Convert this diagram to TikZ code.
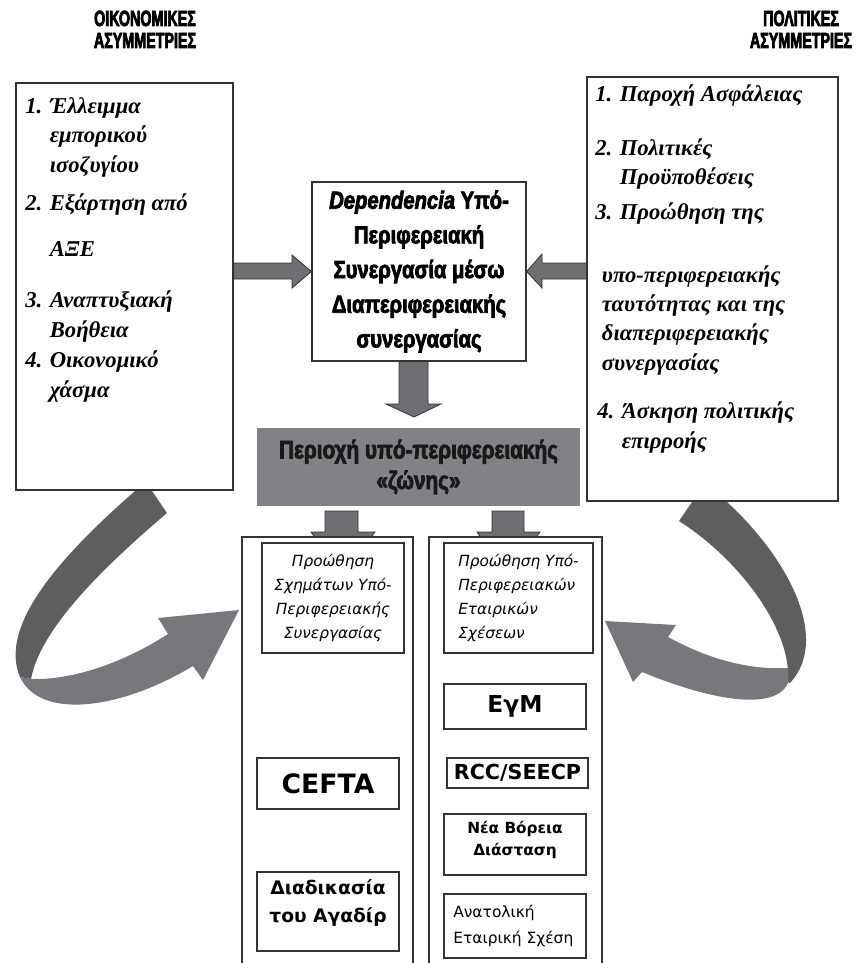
\documentclass[tikz,border=0pt]{standalone}
\usepackage{fontspec}
\setmainfont{Liberation Serif}
\newfontfamily\impactcaps{Liberation Sans Bold}[FakeStretch=0.65, FakeBold=3]
\newfontfamily\impactfont{Liberation Sans Bold}[FakeStretch=0.82, FakeBold=3, ItalicFont={Liberation Sans Bold Italic}]
\newfontfamily\verdanafont{DejaVu Sans}
\usepackage{tikz}
\usetikzlibrary{fit}

\definecolor{ribbondark}{HTML}{5E5E60}
\definecolor{ribbonlight}{HTML}{77787B}
\definecolor{arrowgrey}{HTML}{6E6F72}
\definecolor{zonegrey}{HTML}{818285}
\definecolor{edgegrey}{HTML}{333333}

\begin{document}
\begin{tikzpicture}[x=0.75pt, y=-0.75pt,
	box/.style={draw=edgegrey, line width=0.9pt, fill=white, inner sep=0pt},
	head/.style={font=\impactcaps\fontsize{16.5}{16.5}\selectfont, align=center, anchor=base, inner sep=0pt},
	item/.style={font=\bfseries\itshape\fontsize{17}{22}\selectfont, align=left, anchor=base west, inner sep=0pt},
	blockarrow/.style={fill=arrowgrey, draw=edgegrey, line width=0.6pt},
	small/.style={font=\verdanafont\itshape\fontsize{11.5}{18}\selectfont, inner sep=0pt},
	boxtext/.style={inner sep=0pt, align=center}]
	\useasboundingbox (0,0) rectangle (861,963);

	% curved ribbons (under the boxes)
	\fill[ribbondark] (135,491) -- (152,491) -- (167,513) .. controls (100,570) and (40,630) .. (31,679)
		-- (20,677) .. controls (-2,625) and (62,555) .. (135,491) -- cycle;
	\fill[ribbonlight] (20,677) .. controls (40,720) and (120,710) .. (193,666) -- (203,680) -- (239,610)
		-- (158,618) -- (168,634) .. controls (120,665) and (70,680) .. (32,679) -- cycle;
	\fill[ribbondark] (692,502) -- (727,502) .. controls (790,560) and (830,640) .. (790,683)
		-- (788,682) .. controls (792,630) and (740,560) .. (679,521) -- cycle;
	\fill[ribbonlight] (788,668) -- (788,683) .. controls (775,712) and (710,700) .. (642,672) -- (633,682)
		-- (605,621) -- (676,625) -- (668,637) .. controls (710,660) and (750,670) .. (788,668) -- cycle;

	\node[head] (ecohead) at (145,48) {ΟΙΚΟΝΟΜΙΚΕΣ\\ΑΣΥΜΜΕΤΡΙΕΣ};
	\node[head] (polhead) at (801,48) {ΠΟΛΙΤΙΚΕΣ\\ΑΣΥΜΜΕΤΡΙΕΣ};

	\node[box, fit={(16,83) (233,490)}] (econ) {};
	\node[box, fit={(587,77) (838,501)}] (pol) {};
	\node[box, fit={(312,182) (526,361)}] (dep) {};
	\node[boxtext, font=\impactfont\fontsize{18.5}{26}\selectfont] (deptxt) at (dep.center)
		{\textit{Dependencia} Υπό-\\Περιφερειακή\\Συνεργασία μέσω\\Διαπεριφερειακής\\συνεργασίας};

	% items, anchored on the baseline of their last line
	\node[item] (eco1) at (25,172) {1. Έλλειμμα\\\phantom{1. }εμπορικού\\\phantom{1. }ισοζυγίου};
	\node[item] (eco2) at (25,256) {2. Εξάρτηση από\\[12pt]\phantom{2. }ΑΞΕ};
	\node[item] (eco3) at (25,337) {3. Αναπτυξιακή\\\phantom{3. }Βοήθεια};
	\node[item] (eco4) at (25,397) {4. Οικονομικό\\\phantom{4. }χάσμα};

	\node[item] (pol1) at (595,102) {1. Παροχή Ασφάλειας};
	\node[item] (pol2) at (595,185) {2. Πολιτικές\\\phantom{2. }Προϋποθέσεις};
	\node[item] (pol3) at (595,370) {3. Προώθηση της\\[25pt]\hspace*{5pt}υπο-περιφερειακής\\\hspace*{5pt}ταυτότητας και της\\\hspace*{5pt}διαπεριφερειακής\\\hspace*{5pt}συνεργασίας};
	\node[item] (pol4) at (597,448) {4. Άσκηση πολιτικής\\\phantom{4. }επιρροής};

	\draw[blockarrow] (econ.east |- 0,263) -- (292,263) -- (292,255) -- (dep.west) -- (292,288) -- (292,279) -- (econ.east |- 0,279) -- cycle;
	\draw[blockarrow] (pol.west |- 0,263) -- (542,263) -- (542,254) -- (dep.east) -- (542,288) -- (542,279) -- (pol.west |- 0,279) -- cycle;
	\draw[blockarrow] (dep.south -| 399,0) -- (399,404) -- (386,404) -- (414,417) -- (441,404) -- (428,404) -- (dep.south -| 428,0) -- cycle;

	\node[fill=zonegrey, inner sep=0pt, fit={(257,428) (580,506)}] (zone) {};
	\node[boxtext, font=\impactfont\fontsize{19}{23}\selectfont, text=black!90] (zonetxt) at (zone.center)
		{Περιοχή υπό-περιφερειακής\\«ζώνης»};

	\draw[blockarrow] (325,511) -- (325,532) -- (311,532) -- (342,575) -- (375,532) -- (358,532) -- (358,511) -- cycle;
	\draw[blockarrow] (492,511) -- (492,532) -- (477,532) -- (508,575) -- (540,532) -- (524,532) -- (524,511) -- cycle;

	\node[box, fit={(242,537) (413,980)}] (colL) {};
	\node[box, fit={(429,537) (602,980)}] (colR) {};

	\node[box, fit={(262,543) (404,653)}] (promL) {};
	\node[small, align=center] at (promL.center) {Προώθηση\\Σχημάτων Υπό-\\Περιφερειακής\\Συνεργασίας};
	\node[box, fit={(444,543) (593,653)}] (promR) {};
	\node[small, align=left, anchor=west] at (458,598) {Προώθηση Υπό-\\Περιφερειακών\\Εταιρικών\\Σχέσεων};

	\node[box, fit={(444,684) (586,729)}] (eym) {};
	\node[boxtext, font=\verdanafont\bfseries\fontsize{17.5}{24}\selectfont] at (eym.center) {ΕγΜ};
	\node[box, fit={(257,758) (399,809)}] (cefta) {};
	\node[boxtext, font=\verdanafont\bfseries\fontsize{20}{24}\selectfont] at (cefta.center) {CEFTA};
	\node[box, fit={(447,758) (588,788)}] (rcc) {};
	\node[boxtext, font=\verdanafont\bfseries\fontsize{15.5}{18}\selectfont] at (rcc.center) {RCC/SEECP};
	\node[box, fit={(444,814) (586,875)}] (nbd) {};
	\node[boxtext, font=\verdanafont\bfseries\fontsize{11.5}{16.5}\selectfont] at (515,840) {Νέα Βόρεια\\Διάσταση};
	\node[box, fit={(257,872) (399,951)}] (agadir) {};
	\node[boxtext, font=\verdanafont\bfseries\fontsize{14}{21}\selectfont] at (328,903) {Διαδικασία\\του Αγαδίρ};
	\node[box, fit={(444,894) (586,958)}] (eastp) {};
	\node[boxtext, font=\verdanafont\fontsize{11.6}{20}\selectfont, align=left, anchor=west] at (453,926) {Ανατολική\\Εταιρική Σχέση};
\end{tikzpicture}
\end{document}
